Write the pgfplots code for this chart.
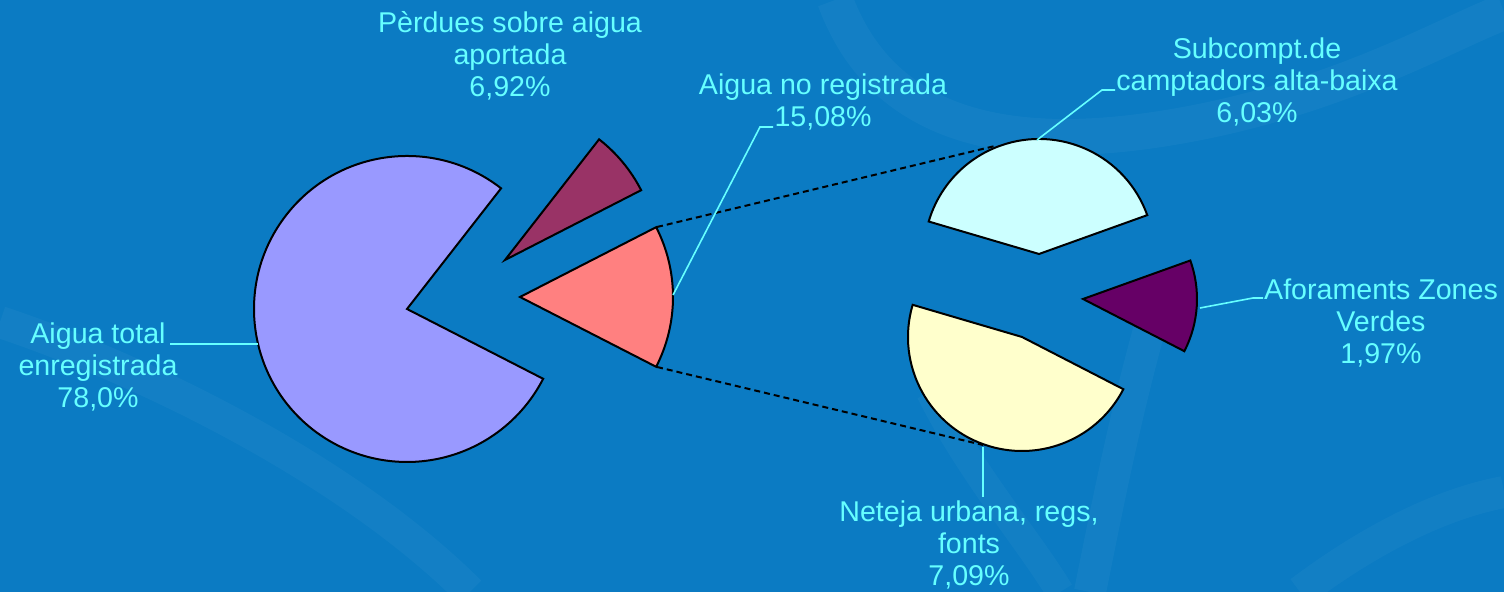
\documentclass[border=0pt]{standalone}
\usepackage{pgfplots}
\pgfplotsset{compat=1.18}
\usepackage{pgfplotstable}
\usepackage{fontspec}
\setmainfont{Liberation Sans}
\definecolor{bgblue}{HTML}{0B7BC3}
\definecolor{txtcyan}{HTML}{66FFFF}
\definecolor{cTotal}{HTML}{9999FF}
\definecolor{cPerd}{HTML}{993366}
\definecolor{cNoReg}{HTML}{FF8080}
\definecolor{cSub}{HTML}{CCFFFF}
\definecolor{cAfor}{HTML}{660066}
\definecolor{cNet}{HTML}{FFFFCC}
\tikzset{lbl/.style={font=\fontsize{14.3}{16}\selectfont, text=txtcyan, align=center, inner sep=0pt}}

% first pie: shares in percent
\pgfplotstableread{
part value
total 78.0
perdues 6.92
noreg 15.08
}\firstpie
% second pie: breakdown of "Aigua no registrada"
\pgfplotstableread{
part value
subcompt 6.03
aforaments 1.97
neteja 7.09
}\secondpie

\begin{document}
\begin{tikzpicture}
\pgfplotstablegetelem{0}{value}\of\firstpie \let\vTotal\pgfplotsretval
\pgfplotstablegetelem{1}{value}\of\firstpie \let\vPerd\pgfplotsretval
\pgfplotstablegetelem{2}{value}\of\firstpie \let\vNoReg\pgfplotsretval
\pgfplotstablegetelem{0}{value}\of\secondpie \let\vSub\pgfplotsretval
\pgfplotstablegetelem{1}{value}\of\secondpie \let\vAfor\pgfplotsretval
\pgfplotstablegetelem{2}{value}\of\secondpie \let\vNet\pgfplotsretval
% angles, first pie (other slice centred on 0 deg)
\pgfmathsetmacro\aA{-\vNoReg*1.8}
\pgfmathsetmacro\aB{\aA+\vNoReg*3.6}
\pgfmathsetmacro\aC{\aB+\vPerd*3.6}
\pgfmathsetmacro\aD{\aC+\vTotal*3.6}
% angles, second pie
\pgfmathsetmacro\sTot{\vSub+\vAfor+\vNet}
\pgfmathsetmacro\bA{163.6}
\pgfmathsetmacro\bB{\bA+\vNet/\sTot*360}
\pgfmathsetmacro\bC{\bB+\vAfor/\sTot*360}
\pgfmathsetmacro\bD{\bC+\vSub/\sTot*360}
\begin{axis}[
  x=0.5pt, y=0.5pt,
  xmin=0, xmax=1504, ymin=0, ymax=592,
  hide axis, clip=true,
]
% background
\fill[bgblue] (axis cs:0,0) rectangle (axis cs:1504,592);
\draw[white, opacity=0.035, line width=18pt] (axis cs:835,592) .. controls (axis cs:880,470) and (axis cs:1000,430) .. (axis cs:1200,470) .. controls (axis cs:1350,500) and (axis cs:1450,560) .. (axis cs:1504,580);
\draw[white, opacity=0.035, line width=16pt] (axis cs:0,270) .. controls (axis cs:150,220) and (axis cs:350,120) .. (axis cs:470,0);
\draw[white, opacity=0.035, line width=16pt] (axis cs:1160,300) .. controls (axis cs:1130,200) and (axis cs:1110,100) .. (axis cs:1090,0);
\draw[white, opacity=0.03, line width=14pt] (axis cs:930,200) .. controls (axis cs:970,120) and (axis cs:1030,50) .. (axis cs:1060,0);
\draw[white, opacity=0.03, line width=16pt] (axis cs:1300,0) .. controls (axis cs:1380,60) and (axis cs:1450,90) .. (axis cs:1504,100);
% connector lines
\draw[black, line width=1pt, dash pattern=on 3pt off 2pt] (axis cs:657,365) -- (axis cs:995,446);
\draw[black, line width=1pt, dash pattern=on 3pt off 2pt] (axis cs:657,225) -- (axis cs:983,147);
% first pie
\filldraw[fill=cTotal, draw=black, line width=1pt] (axis cs:407,283) -- ++(\aC:76.5pt) arc[start angle=\aC, end angle=\aD, radius=76.5pt] -- cycle;
\filldraw[fill=cPerd, draw=black, line width=1pt] (axis cs:505,332) -- ++(\aB:76.5pt) arc[start angle=\aB, end angle=\aC, radius=76.5pt] -- cycle;
\filldraw[fill=cNoReg, draw=black, line width=1pt] (axis cs:520,295) -- ++(\aA:76.5pt) arc[start angle=\aA, end angle=\aB, radius=76.5pt] -- cycle;
% second pie
\filldraw[fill=cNet, draw=black, line width=1pt] (axis cs:1022,255) -- ++(\bA:57pt) arc[start angle=\bA, end angle=\bB, radius=57pt] -- cycle;
\filldraw[fill=cAfor, draw=black, line width=1pt] (axis cs:1083,293) -- ++(\bB:57pt) arc[start angle=\bB, end angle=\bC, radius=57pt] -- cycle;
\filldraw[fill=cSub, draw=black, line width=1pt] (axis cs:1039,338) -- ++(\bC:57.5pt) arc[start angle=\bC, end angle=\bD, radius=57.5pt] -- cycle;
% leader lines
\draw[txtcyan, line width=0.8pt] (axis cs:170,248) -- (axis cs:258,248);
\draw[txtcyan, line width=0.8pt] (axis cs:673,297) -- (axis cs:760,465) -- (axis cs:773,465);
\draw[txtcyan, line width=0.8pt] (axis cs:1037,452) -- (axis cs:1102,502) -- (axis cs:1115,502);
\draw[txtcyan, line width=0.8pt] (axis cs:1200,284) -- (axis cs:1253,294) -- (axis cs:1263,294);
\draw[txtcyan, line width=0.8pt] (axis cs:983,145) -- (axis cs:983,95);
% labels
\node[lbl] at (axis cs:98,225) {Aigua total\\enregistrada\\78,0\%};
\node[lbl] at (axis cs:510,536) {Pèrdues sobre aigua\\aportada\\6,92\%};
\node[lbl] at (axis cs:823,490) {Aigua no registrada\\15,08\%};
\node[lbl] at (axis cs:1257,510) {Subcompt.de\\camptadors alta-baixa\\6,03\%};
\node[lbl] at (axis cs:1381,269) {Aforaments Zones\\Verdes\\1,97\%};
\node[lbl] at (axis cs:969,47) {Neteja urbana, regs,\\fonts\\7,09\%};
\end{axis}
\end{tikzpicture}
\end{document}
